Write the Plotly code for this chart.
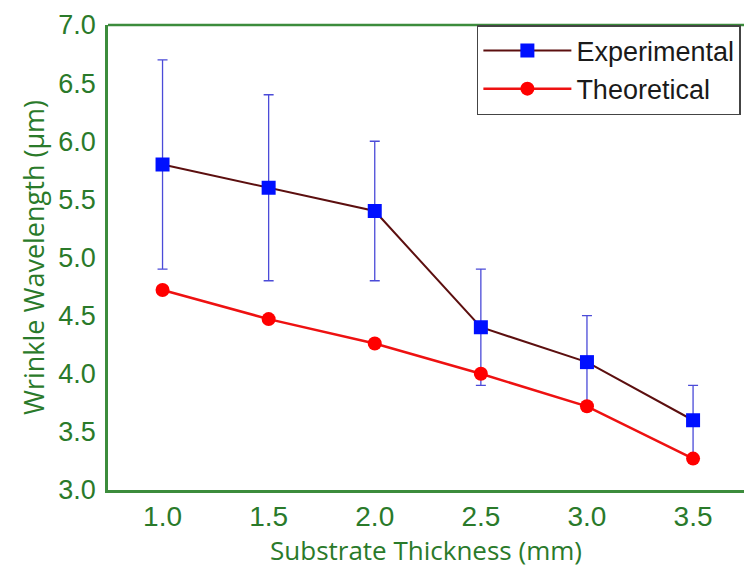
import plotly.graph_objects as go

thickness = [1.0, 1.5, 2.0, 2.5, 3.0, 3.5]
experimental = [5.8, 5.6, 5.4, 4.4, 4.1, 3.6]
exp_error = [0.9, 0.8, 0.6, 0.5, 0.4, 0.3]
theoretical = [4.72, 4.47, 4.26, 4.0, 3.72, 3.27]

green_text = "#2a7a2a"
green_line = "#3c8c3c"

fig = go.Figure()
fig.add_trace(go.Scatter(
    x=thickness, y=experimental, name="Experimental", mode="lines+markers",
    line=dict(color="#5c0f0f", width=2),
    marker=dict(symbol="square", size=14, color="#0010ff"),
    error_y=dict(type="data", array=exp_error, visible=True, color="#4b4bd8", thickness=1.3, width=5),
))
fig.add_trace(go.Scatter(
    x=thickness, y=theoretical, name="Theoretical", mode="lines+markers",
    line=dict(color="#ee1111", width=2.5),
    marker=dict(symbol="circle", size=14, color="#ff0000"),
))

fig.update_layout(
    width=744, height=569,
    margin=dict(l=108, r=0, t=25, b=79),
    paper_bgcolor="white", plot_bgcolor="white",
    font=dict(family="Liberation Sans, Arial", color=green_text),
    showlegend=True,
    legend=dict(x=0.58, y=1.0, xanchor="left", yanchor="top",
                bgcolor="white", bordercolor="#444444", borderwidth=1.5,
                font=dict(size=27, color="#1a1a1a", family="Liberation Sans, Arial"),
                tracegroupgap=0, itemwidth=88),
    xaxis=dict(range=[0.743, 3.74], tickvals=thickness, ticktext=["1.0", "1.5", "2.0", "2.5", "3.0", "3.5"],
               showgrid=False, zeroline=False, showline=True, linecolor=green_line, linewidth=2.5,
               ticks="", tickfont=dict(size=28, color=green_text), ticklabelstandoff=0,
               title=dict(text="Substrate Thickness (mm)", font=dict(size=26, color=green_text, family="Open Sans"), standoff=10)),
    yaxis=dict(range=[3.0, 7.0], tickvals=[3.0, 3.5, 4.0, 4.5, 5.0, 5.5, 6.0, 6.5, 7.0],
               ticktext=["3.0", "3.5", "4.0", "4.5", "5.0", "5.5", "6.0", "6.5", "7.0"],
               showgrid=False, zeroline=False, showline=True, linecolor=green_line, linewidth=2.5,
               ticks="", tickfont=dict(size=27, color=green_text), ticklabelstandoff=4,
               title=dict(text="Wrinkle Wavelength (µm)", font=dict(size=27, color=green_text, family="Open Sans"), standoff=6)),
    shapes=[dict(type="line", xref="paper", yref="paper", x0=0, x1=1, y0=1, y1=1,
                 line=dict(color=green_line, width=2.5))],
)

fig.write_html("out.html")
